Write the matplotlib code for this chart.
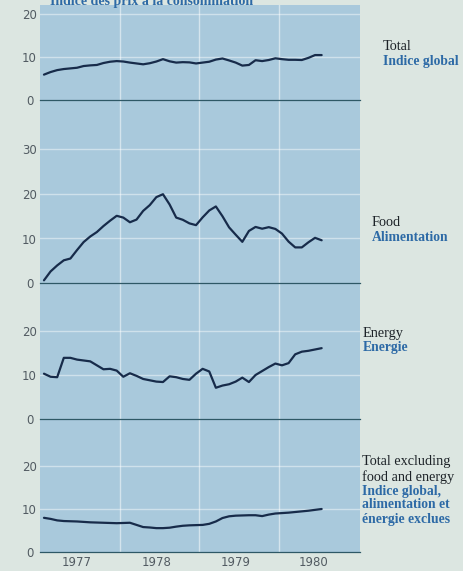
import matplotlib
matplotlib.use("Agg")
import matplotlib.pyplot as plt

# Monthly year-over-year change (%), January 1977 onward
months = list(range(43))
year_labels = ["1977", "1978", "1979", "1980"]

total = [5.9, 6.5, 6.95, 7.2, 7.35, 7.5, 7.9, 8.05, 8.15, 8.6, 8.9, 9.05,
         8.95, 8.7, 8.5, 8.3, 8.55, 8.95, 9.5, 9.0, 8.7, 8.8, 8.75, 8.5,
         8.7, 8.9, 9.4, 9.65, 9.2, 8.7, 8.0, 8.15, 9.25, 9.05, 9.3, 9.7,
         9.5, 9.35, 9.35, 9.3, 9.8, 10.45, 10.45]

food = [0.6, 2.6, 3.95, 5.1, 5.5, 7.4, 9.2, 10.45, 11.45, 12.8, 14.0, 15.1,
        14.7, 13.65, 14.25, 16.2, 17.5, 19.3, 19.95, 17.65, 14.7, 14.2, 13.4, 13.0,
        14.75, 16.3, 17.2, 15.0, 12.5, 10.85, 9.25, 11.7, 12.6, 12.2, 12.55, 12.15,
        11.1, 9.3, 8.0, 8.0, 9.15, 10.15, 9.6]

energy = [10.3, 9.6, 9.5, 13.9, 13.9, 13.5, 13.3, 13.1, 12.2, 11.3, 11.4, 11.0,
          9.6, 10.4, 9.8, 9.1, 8.8, 8.5, 8.4, 9.7, 9.5, 9.1, 8.9, 10.3,
          11.4, 10.8, 7.1, 7.6, 7.9, 8.5, 9.4, 8.4, 10.0, 10.9, 11.8, 12.6,
          12.2, 12.7, 14.7, 15.3, 15.5, 15.8, 16.1]

core = [7.95, 7.7, 7.35, 7.2, 7.15, 7.1, 7.0, 6.9, 6.85, 6.8, 6.75, 6.7,
        6.75, 6.8, 6.3, 5.8, 5.7, 5.55, 5.55, 5.65, 5.9, 6.1, 6.2, 6.25,
        6.3, 6.55, 7.1, 7.9, 8.3, 8.45, 8.5, 8.55, 8.55, 8.35, 8.7, 8.95,
        9.05, 9.15, 9.3, 9.45, 9.6, 9.8, 10.0]

W, H = 464, 571
PAPER = "#dce6e1"
PANEL = "#a9c9dc"
LINE = "#172b4a"
ZERO = "#2e5866"
TICK = "#525b62"
INK = "#1d2328"
BLUE = "#2d6aa6"
SERIF = ["Liberation Serif", "DejaVu Serif"]

fig = plt.figure(figsize=(W / 100, H / 100), dpi=100, facecolor=PAPER)

def fx(px):
    return px / W

def fy(py):
    return 1 - py / H

X0, X1 = 40, 360
XLIM = (-0.6, 47.8)

# shared light-blue backdrop behind all four panels
bg = fig.add_axes([fx(X0), fy(552), fx(X1 - X0), (552 - 5) / H], zorder=0)
bg.set_facecolor(PANEL)
bg.set_xticks([])
bg.set_yticks([])
for s in bg.spines.values():
    s.set_visible(False)

# (series, top px, bottom px, zero px, px per unit, ticks)
panels = [
    (total, 5, 120, 100, 4.3, [0, 10, 20]),
    (food, 120, 305, 283, 4.45, [0, 10, 20, 30]),
    (energy, 305, 440, 419, 4.4, [0, 10, 20]),
    (core, 440, 552, 552, 4.3, [0, 10, 20]),
]

axes = []
for series, top, bot, zero, ppu, ticks in panels:
    ax = fig.add_axes([fx(X0), fy(bot), fx(X1 - X0), (bot - top) / H], zorder=1)
    ax.patch.set_visible(False)
    ax.set_xlim(*XLIM)
    ax.set_ylim(-(bot - zero) / ppu, (zero - top) / ppu)
    for s in ax.spines.values():
        s.set_visible(False)
    ax.set_xticks([])
    ax.set_yticks(ticks)
    ax.set_yticklabels([str(t) for t in ticks])
    ax.tick_params(axis="y", length=0, pad=7.5, labelsize=8.5, labelcolor=TICK)
    for lab in ax.get_yticklabels():
        lab.set_horizontalalignment("center")
    for t in ticks[1:]:
        ax.axhline(t, color="white", lw=1.0, alpha=0.45, zorder=1)
    for xb in (11.5, 23.5, 35.5):
        ax.axvline(xb, color="white", lw=1.0, alpha=0.5, zorder=1)
    ax.axhline(0, color=ZERO, lw=0.9, zorder=2, clip_on=False)
    ax.plot(months[:len(series)], series, color=LINE, lw=1.6,
            solid_joinstyle="round", solid_capstyle="round", zorder=3)
    axes.append(ax)

# year labels under the bottom panel
for pos, lab in zip((5.0, 17.0, 29.0, 40.8), year_labels):
    axes[-1].text(pos, -1.0, lab, ha="center", va="top", fontsize=8.5,
                  color=TICK, clip_on=False)

# running head, cut by the top edge
fig.text(fx(50), fy(4.5), "Indice des prix à la consommation",
         color=BLUE, fontsize=10, fontweight="bold", family=SERIF,
         va="baseline", ha="left")

def label(x, y, s, color, bold=False):
    fig.text(fx(x), fy(y), s, color=color, family=SERIF,
             fontsize=9.8 if bold else 10.3,
             fontweight="bold" if bold else "normal",
             ha="left", va="center")

label(383, 47, "Total", INK)
label(383, 61, "Indice global", BLUE, True)
label(372, 222, "Food", INK)
label(372, 237, "Alimentation", BLUE, True)
label(363, 333, "Energy", INK)
label(363, 348, "Energie", BLUE, True)
for y, s, c, b in [(462, "Total excluding", INK, False),
                   (477, "food and energy", INK, False),
                   (491, "Indice global,", BLUE, True),
                   (505, "alimentation et", BLUE, True),
                   (519, "énergie exclues", BLUE, True)]:
    label(362, y, s, c, b)

fig.savefig("out.png", dpi=100, facecolor=PAPER)
